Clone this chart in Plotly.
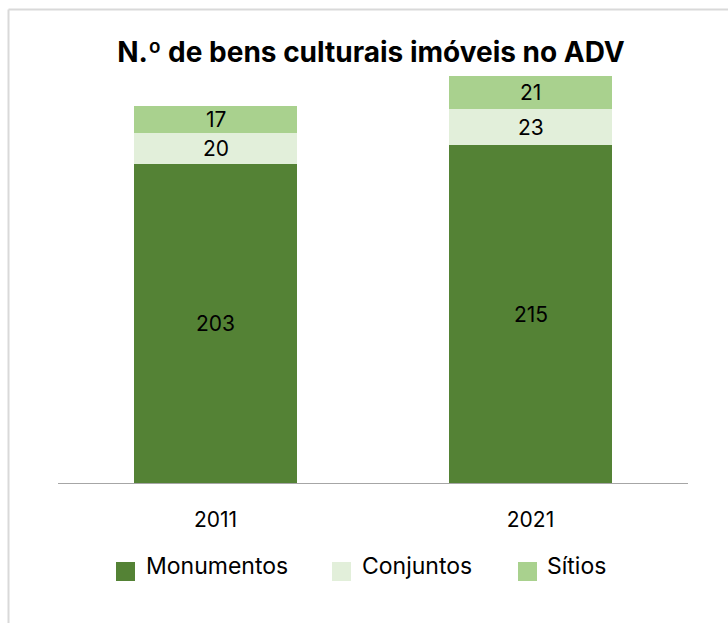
import plotly.graph_objects as go

# Immovable cultural heritage in the ADV, by category
years = ["2011", "2021"]
monumentos = [203, 215]
conjuntos = [20, 23]
sitios = [17, 21]

series = [
    ("Monumentos", monumentos, "#548235"),
    ("Conjuntos", conjuntos, "#E2EFDA"),
    ("Sítios", sitios, "#A9D18E"),
]

FONT = "Inter"
W, H = 728, 623
ML, MR, MT, MB = 58, 40, 43, 140
PW, PH = W - ML - MR, H - MT - MB

fig = go.Figure()
for name, vals, color in series:
    fig.add_trace(go.Bar(
        x=years, y=vals, name=name,
        marker=dict(color=color, line=dict(width=0)),
        width=0.517, showlegend=False,
    ))

# value labels centred in each stacked segment (category index on x)
base = [0] * len(years)
for name, vals, color in series:
    for i, v in enumerate(vals):
        fig.add_annotation(
            x=i, y=base[i] + v / 2, text=str(v), showarrow=False,
            font=dict(family=FONT, size=21, color="#000000"),
            xanchor="center", yanchor="middle",
        )
        base[i] += v


def px_x(p):
    return (p - ML) / PW


def px_y(p):
    return (H - MB - p) / PH


# chart frame (top and left edges)
frame = dict(type="line", xref="paper", yref="paper",
             line=dict(color="#d9d9d9", width=2))
fig.add_shape(x0=px_x(8.5), x1=px_x(W + 5), y0=px_y(9.5), y1=px_y(9.5), **frame)
fig.add_shape(x0=px_x(8.5), x1=px_x(8.5), y0=px_y(9.5), y1=px_y(H + 5), **frame)

# legend
legend_items = [(name, color, sx, tx) for (name, _, color), sx, tx in
                zip(series, [116, 332, 518], [144, 360, 545])]
for name, color, sx, tx in legend_items:
    fig.add_shape(type="rect", xref="paper", yref="paper",
                  x0=px_x(sx), x1=px_x(sx + 19), y0=px_y(562), y1=px_y(581),
                  fillcolor=color, line=dict(width=0))
    fig.add_annotation(xref="paper", yref="paper", x=px_x(tx), y=px_y(566),
                       text=name, showarrow=False, xanchor="left", yanchor="middle",
                       font=dict(family=FONT, size=23, color="#000000"))

fig.update_layout(
    width=W, height=H,
    margin=dict(l=ML, r=MR, t=MT, b=MB),
    barmode="stack",
    plot_bgcolor="white", paper_bgcolor="white",
    title=dict(text="<b>N.º de bens culturais imóveis no ADV</b>",
               x=371 / W, xanchor="center", y=1 - 52 / H, yanchor="middle",
               font=dict(family=FONT, size=28, color="#000000")),
    xaxis=dict(type="category", range=[-0.5, 1.5], showline=True,
               linecolor="#a6a6a6", linewidth=1, ticks="", ticklabelstandoff=18,
               tickfont=dict(family=FONT, size=21, color="#000000"),
               showgrid=False, zeroline=False),
    yaxis=dict(range=[0, 280], visible=False, showgrid=False, zeroline=False),
    font=dict(family=FONT),
)

fig.write_html("out.html")
